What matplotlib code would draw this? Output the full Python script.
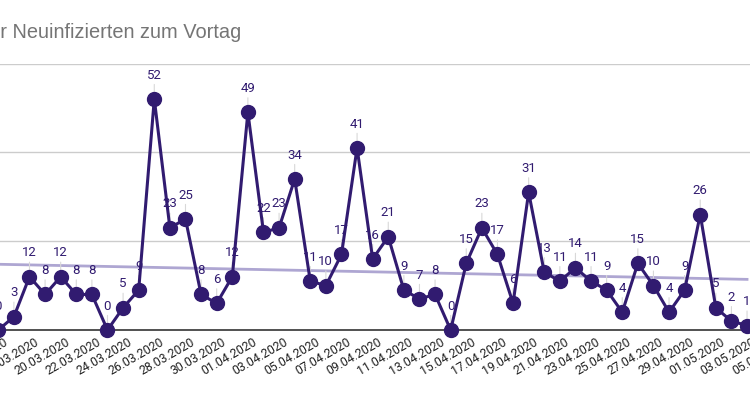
import matplotlib
matplotlib.use("Agg")
import matplotlib.pyplot as plt
import matplotlib.transforms as mtransforms
import numpy as np

dates = ["16.03.2020","17.03.2020","18.03.2020","19.03.2020","20.03.2020","21.03.2020","22.03.2020",
         "23.03.2020","24.03.2020","25.03.2020","26.03.2020","27.03.2020","28.03.2020","29.03.2020",
         "30.03.2020","31.03.2020","01.04.2020","02.04.2020","03.04.2020","04.04.2020","05.04.2020",
         "06.04.2020","07.04.2020","08.04.2020","09.04.2020","10.04.2020","11.04.2020","12.04.2020",
         "13.04.2020","14.04.2020","15.04.2020","16.04.2020","17.04.2020","18.04.2020","19.04.2020",
         "20.04.2020","21.04.2020","22.04.2020","23.04.2020","24.04.2020","25.04.2020","26.04.2020",
         "27.04.2020","28.04.2020","29.04.2020","30.04.2020","01.05.2020","02.05.2020","03.05.2020"]
values = [0, 3, 12, 8, 12, 8, 8, 0, 5, 9, 52, 23, 25, 8, 6, 12, 49, 22, 23, 34, 11,
          10, 17, 41, 16, 21, 9, 7, 8, 0, 15, 23, 17, 6, 31, 13, 11, 14, 11, 9, 4, 15,
          10, 4, 9, 26, 5, 2, 1]
# axis tick labels (every second day, continuing past the visible data)
tick_labels = ["16.03.2020","18.03.2020","20.03.2020","22.03.2020","24.03.2020","26.03.2020",
               "28.03.2020","30.03.2020","01.04.2020","03.04.2020","05.04.2020","07.04.2020",
               "09.04.2020","11.04.2020","13.04.2020","15.04.2020","17.04.2020","19.04.2020",
               "21.04.2020","23.04.2020","25.04.2020","27.04.2020","29.04.2020","01.05.2020",
               "03.05.2020","05.05.2020"]
trend_values = [14.8, 11.4]  # trend line at first and last date
title = "Veränderung der Neuinfizierten zum Vortag"

purple = "#311b70"
trend_col = "#aea6d2"

fig = plt.figure(figsize=(7.5, 3.93), dpi=100)
ax = fig.add_axes([0, 0.1603, 1, 0.8384 - 0.1603])

x = np.arange(len(values))
ax.set_xlim(0.109, 48.19)
ax.set_ylim(0, 60)

for s in ["top", "left", "right"]:
    ax.spines[s].set_visible(False)
ax.spines["bottom"].set_color("#333333")
ax.spines["bottom"].set_linewidth(1.2)
ax.spines["bottom"].set_zorder(2)

ax.set_yticks([20, 40, 60])
ax.yaxis.grid(True, color="#cccccc", linewidth=1)
ax.tick_params(axis="y", left=False, labelleft=False)
ax.set_axisbelow(True)
ax.set_xticks([])

ax.plot([x[0], x[-1]], trend_values, color=trend_col, lw=2, zorder=3, clip_on=False)
ax.plot(x, values, color=purple, lw=2.2, marker="o", markersize=10, zorder=5, clip_on=False)

for xi, v in zip(x, values):
    ax.annotate(str(v), xy=(xi, v), xytext=(0, 12.5), textcoords="offset points",
                ha="center", va="bottom", fontsize=9.5, color=purple, family="Roboto",
                arrowprops=dict(arrowstyle="-", color="#d8d8d8", lw=0.8, shrinkA=0, shrinkB=4),
                zorder=4, annotation_clip=False)

base = mtransforms.blended_transform_factory(ax.transData, ax.transAxes)
offset = mtransforms.ScaledTranslation(5 / 100, -6 / 100, fig.dpi_scale_trans)
for k, lab in enumerate(tick_labels):
    ax.text(2 * k, 0, lab, transform=base + offset, rotation=30, rotation_mode="anchor",
            ha="right", va="top", fontsize=8.8, color="#222222", family="Roboto", clip_on=False)

fig.text(241 / 750, 1 - 32 / 393, title, ha="right", va="center", fontsize=14.4,
         color="#757575", family="Liberation Sans")

fig.savefig("out.png", dpi=100)
